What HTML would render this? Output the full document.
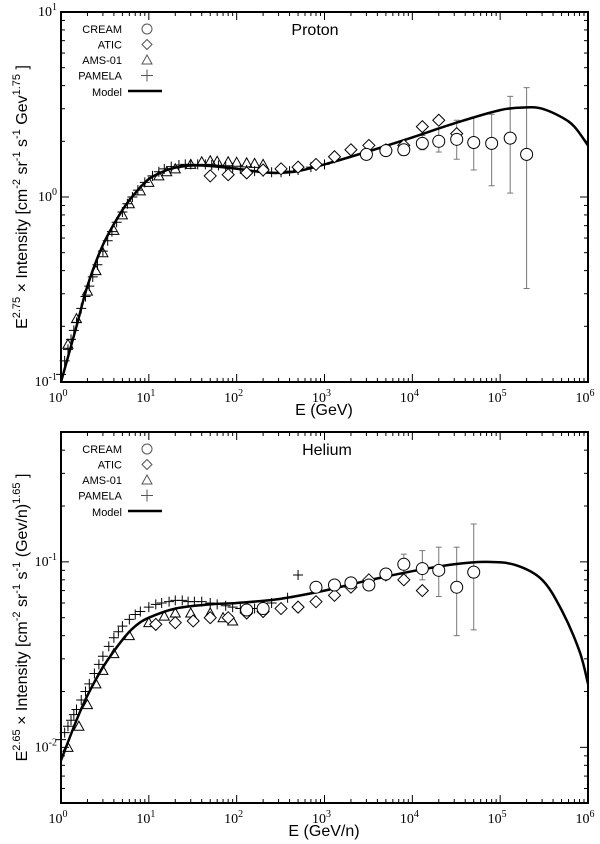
<!DOCTYPE html>
<html><head><meta charset="utf-8"><style>
html,body{margin:0;padding:0;background:#fff;}
svg{display:block;}
.tk{font-family:"Liberation Serif",serif;font-size:14px;fill:#000;}
.lg{font-family:"Liberation Sans",sans-serif;font-size:11px;fill:#000;}
.tt{font-family:"Liberation Sans",sans-serif;font-size:16px;fill:#000;}
.ax{font-family:"Liberation Sans",sans-serif;font-size:16px;fill:#000;}
</style></head><body>
<svg id="chart" width="600" height="844" xmlns="http://www.w3.org/2000/svg"></svg>
<script>
// ---- Proton data ----
const pModelE=[1,1.5,2,3,5,7,10,15,20,30,50,100,200,300,500,1e3,3e3,1e4,3e4,1e5,2e5,3e5,5e5,7e5,1e6];
const pModelV=[0.1,0.2,0.33,0.55,0.85,1.05,1.25,1.38,1.44,1.48,1.47,1.42,1.36,1.35,1.38,1.5,1.75,2.1,2.5,2.95,3.05,3.0,2.7,2.4,1.9];
const pCreamE=[3e3,5e3,8e3,1.3e4,2e4,3.2e4,5e4,8e4,1.3e5,2e5];
const pCreamV=[1.7,1.78,1.8,1.95,2.0,2.05,1.97,1.95,2.08,1.7];
const pCreamLo=[1.6,1.68,1.68,1.8,1.75,1.6,1.4,1.15,1.05,0.32];
const pCreamHi=[1.8,1.9,1.95,2.15,2.35,2.6,2.7,2.8,3.5,3.9];
const pAticE=[50,80,130,200,320,500,800,1300,2000,3200,5000,8000,1.3e4,2e4,3.2e4];
const pAticV=[1.3,1.32,1.35,1.4,1.42,1.45,1.5,1.65,1.8,1.9,1.8,1.9,2.4,2.6,2.2];
const pAmsE=[1.2,1.5,2,2.5,3,4,5,6,8,10,13,16,20,30,40,50,60,80,100,130,160,200];
const pAmsV=[0.16,0.22,0.31,0.4,0.5,0.66,0.8,0.92,1.08,1.2,1.3,1.37,1.42,1.5,1.55,1.57,1.56,1.55,1.54,1.53,1.52,1.5];
const pPamE=[1,1.1,1.2,1.3,1.4,1.5,1.7,1.9,2.1,2.3,2.6,3,3.4,3.8,4.3,5,5.7,6.5,7.5,9,11,13,15,18,22,26,30,36,44,52,62,75,90,110,130,160,200,250,320,400,500,700,1000];
const pPamV=[0.11,0.13,0.15,0.17,0.19,0.21,0.25,0.29,0.33,0.37,0.43,0.51,0.58,0.65,0.73,0.83,0.92,1.0,1.09,1.2,1.3,1.37,1.42,1.46,1.49,1.5,1.5,1.5,1.5,1.49,1.48,1.46,1.44,1.42,1.4,1.38,1.37,1.36,1.36,1.38,1.4,1.45,1.5];
// ---- Helium data ----
const hModelE=[1,1.5,2,3,5,7,10,20,50,100,300,1e3,3e3,1e4,3e4,7e4,1.5e5,3e5,5e5,8e5,1e6];
const hModelV=[0.0085,0.014,0.019,0.027,0.038,0.045,0.05,0.056,0.059,0.06,0.063,0.07,0.079,0.089,0.097,0.1,0.096,0.08,0.055,0.033,0.022];
const hCreamE=[130,200,800,1300,2000,3200,5000,8000,1.3e4,2e4,3.2e4,5e4];
const hCreamV=[0.055,0.056,0.073,0.075,0.077,0.075,0.086,0.097,0.092,0.09,0.073,0.088];
const hCreamLo=[0.052,0.052,0.07,0.072,0.074,0.072,0.08,0.085,0.08,0.065,0.04,0.043];
const hCreamHi=[0.058,0.06,0.076,0.078,0.08,0.079,0.092,0.11,0.115,0.12,0.12,0.16];
const hAticE=[12,20,32,50,80,130,200,320,500,800,1300,2000,3200,5000,8000,1.3e4];
const hAticV=[0.046,0.047,0.048,0.05,0.05,0.053,0.054,0.056,0.057,0.061,0.066,0.073,0.08,0.085,0.08,0.07];
const hAmsE=[1.2,1.6,2,2.5,3,4,6,10,15,20,30,50,70,90];
const hAmsV=[0.01,0.013,0.017,0.022,0.026,0.032,0.04,0.047,0.051,0.053,0.053,0.053,0.05,0.048];
const hPamE=[1,1.1,1.2,1.3,1.4,1.5,1.7,1.9,2.1,2.4,2.7,3,3.5,4,4.5,5,6,7,8,10,12,14,17,20,24,28,33,40,50,60,75,90,110,130,160,200,250,380,500];
const hPamV=[0.011,0.012,0.013,0.014,0.015,0.016,0.018,0.02,0.022,0.025,0.028,0.031,0.035,0.039,0.042,0.045,0.049,0.052,0.054,0.057,0.059,0.06,0.061,0.062,0.062,0.061,0.061,0.061,0.06,0.059,0.058,0.057,0.056,0.055,0.056,0.058,0.06,0.064,0.085];

const NS="http://www.w3.org/2000/svg";
const svg=document.getElementById('chart');
function mk(tag,attrs,parent){const e=document.createElementNS(NS,tag);for(const k in attrs)e.setAttribute(k,attrs[k]);(parent||svg).appendChild(e);return e;}

function smooth(pts){let d='M'+pts[0][0].toFixed(1)+','+pts[0][1].toFixed(1);
  for(let i=0;i<pts.length-1;i++){const p0=pts[Math.max(0,i-1)],p1=pts[i],p2=pts[i+1],p3=pts[Math.min(pts.length-1,i+2)];
    const c1=[p1[0]+(p2[0]-p0[0])/6,p1[1]+(p2[1]-p0[1])/6],c2=[p2[0]-(p3[0]-p1[0])/6,p2[1]-(p3[1]-p1[1])/6];
    d+=`C${c1[0].toFixed(1)},${c1[1].toFixed(1)} ${c2[0].toFixed(1)},${c2[1].toFixed(1)} ${p2[0].toFixed(1)},${p2[1].toFixed(1)}`;}
  return d;}

function panel(cfg){
  const g=mk('g',{});
  
  
  const L=61,R=588,T=cfg.top,B=cfg.bottom;
  const xs=e=>L+(Math.log10(e))/6*(R-L);
  const ys=v=>B-(Math.log10(v)-cfg.ymin)/(cfg.ymax-cfg.ymin)*(B-T);
  const tg=mk('g',{stroke:'#000','stroke-width':1},g);
  for(let d=0;d<6;d++)for(let m=1;m<10;m++){const x=xs(m*Math.pow(10,d));const len=m===1?8:4;
    mk('line',{x1:x,y1:B,x2:x,y2:B-len},tg);mk('line',{x1:x,y1:T,x2:x,y2:T+len},tg);}
  for(let d=Math.floor(cfg.ymin);d<Math.ceil(cfg.ymax);d++)for(let m=1;m<10;m++){const v=m*Math.pow(10,d);const lv=Math.log10(v);if(lv<cfg.ymin-1e-9||lv>cfg.ymax+1e-9)continue;const y=ys(v);const len=m===1?8:4;
    mk('line',{x1:L,y1:y,x2:L+len,y2:y},tg);mk('line',{x1:R,y1:y,x2:R-len,y2:y},tg);}
  for(let d=0;d<=6;d++){const t=mk('text',{x:xs(Math.pow(10,d))-3,y:B+20,'text-anchor':'middle',class:'tk'},g);
    
    t.innerHTML='10<tspan dy="-6" font-size="10">'+d+'</tspan>';}
  for(const d of cfg.yt){const t=mk('text',{x:L-4,y:ys(Math.pow(10,d))+4,'text-anchor':'end',class:'tk'},g);
    
    t.innerHTML='10<tspan dy="-6" font-size="10">'+d+'</tspan>';}
  const cg=mk('g',{},g);
  function errs(E,lo,hi,col){for(let i=0;i<E.length;i++){const x=xs(E[i]);
    mk('line',{x1:x,y1:ys(lo[i]),x2:x,y2:ys(hi[i]),stroke:col,'stroke-width':1},cg);
    mk('line',{x1:x-3,y1:ys(lo[i]),x2:x+3,y2:ys(lo[i]),stroke:col},cg);
    mk('line',{x1:x-3,y1:ys(hi[i]),x2:x+3,y2:ys(hi[i]),stroke:col},cg);}}
  errs(cfg.cE,cfg.cLo,cfg.cHi,'#777');
  for(let i=0;i<cfg.pamE.length;i++){const x=xs(cfg.pamE[i]),y=ys(cfg.pamV[i]);
    const p=mk('path',{d:`M${x-5},${y}h10M${x},${y-5}v10`,stroke:'#000','stroke-width':1},cg);
    }
  for(let i=0;i<cfg.amsE.length;i++){const x=xs(cfg.amsE[i]),y=ys(cfg.amsV[i]);
    const p=mk('path',{d:`M${x},${y-5}L${x+5},${y+4}L${x-5},${y+4}Z`,fill:'none',stroke:'#000'},cg);
    }
  const pts=cfg.mE.map((e,i)=>[xs(e),ys(cfg.mV[i])]);
  const ml=mk('path',{d:smooth(pts),fill:'none',stroke:'#000','stroke-width':2.5,'stroke-linejoin':'round'},cg);
  
  for(let i=0;i<cfg.aE.length;i++){const x=xs(cfg.aE[i]),y=ys(cfg.aV[i]);
    const p=mk('path',{d:`M${x},${y-6}L${x+6},${y}L${x},${y+6}L${x-6},${y}Z`,fill:'#fff',stroke:'#000'},cg);
    }
  for(let i=0;i<cfg.cE.length;i++){const c=mk('circle',{cx:xs(cfg.cE[i]),cy:ys(cfg.cV[i]),r:6,fill:'#fff',stroke:'#000'},cg);
    }
  mk('rect',{x:L,y:T,width:R-L,height:B-T,fill:'none',stroke:'#000','stroke-width':2},g);
  const lg=mk('g',{},g);
  const ly=T+17;const names=['CREAM','ATIC','AMS-01','PAMELA'];
  names.forEach((n,i)=>{const y=ly+i*15.5;const t=mk('text',{x:122,y:y+4,'text-anchor':'end',class:'lg'},lg);t.textContent=n;
    });
  mk('circle',{cx:147,cy:ly,r:5,fill:'none',stroke:'#555'},lg);
  mk('path',{d:`M147,${ly+15.5-5}l5,5l-5,5l-5,-5z`,fill:'none',stroke:'#555'},lg);
  mk('path',{d:`M147,${ly+31-5}l5,9h-10z`,fill:'none',stroke:'#555'},lg);
  mk('path',{d:`M141,${ly+46.5}h12M147,${ly+40.5}v12`,stroke:'#555'},lg);
  const mt=mk('text',{x:122,y:ly+62+5,'text-anchor':'end',class:'lg','font-size':'13px'},lg);mt.textContent='Model';
  
  mk('line',{x1:128,y1:ly+62,x2:162,y2:ly+62,stroke:'#000','stroke-width':2.5},lg);
  const tt=mk('text',{x:cfg.titleX,y:T+23,'text-anchor':'middle',class:'tt'},g);tt.textContent=cfg.title;
  
  const xt=mk('text',{x:324,y:B+33,'text-anchor':'middle',class:'ax'},g);xt.textContent=cfg.xlabel;
  
  const yt=mk('text',{x:0,y:0,'text-anchor':'middle',class:'ax',transform:`translate(27,${(T+B)/2}) rotate(-90)`},g);
  yt.innerHTML=cfg.ylabel;
  
}
const sup=s=>'<tspan dy="-7" font-size="11">'+s+'</tspan><tspan dy="7"> </tspan>';
panel({name:'proton-panel',top:12,bottom:382,ymin:-1,ymax:1,yt:[-1,0,1],title:'Proton',titleX:315,xlabel:'E (GeV)',
  ylabel:'E'+sup('2.75')+'× Intensity [cm'+sup('-2')+'sr'+sup('-1')+'s'+sup('-1')+'Gev'+sup('1.75')+']',
  mE:pModelE,mV:pModelV,cE:pCreamE,cV:pCreamV,cLo:pCreamLo,cHi:pCreamHi,aE:pAticE,aV:pAticV,amsE:pAmsE,amsV:pAmsV,pamE:pPamE,pamV:pPamV});
panel({name:'helium-panel',top:432,bottom:803,ymin:-2.3,ymax:-0.3,yt:[-2,-1],title:'Helium',titleX:327,xlabel:'E (GeV/n)',
  ylabel:'E'+sup('2.65')+'× Intensity [cm'+sup('-2')+'sr'+sup('-1')+'s'+sup('-1')+'(Gev/n)'+sup('1.65')+']',
  mE:hModelE,mV:hModelV,cE:hCreamE,cV:hCreamV,cLo:hCreamLo,cHi:hCreamHi,aE:hAticE,aV:hAticV,amsE:hAmsE,amsV:hAmsV,pamE:hPamE,pamV:hPamV});
</script>
</body></html>
